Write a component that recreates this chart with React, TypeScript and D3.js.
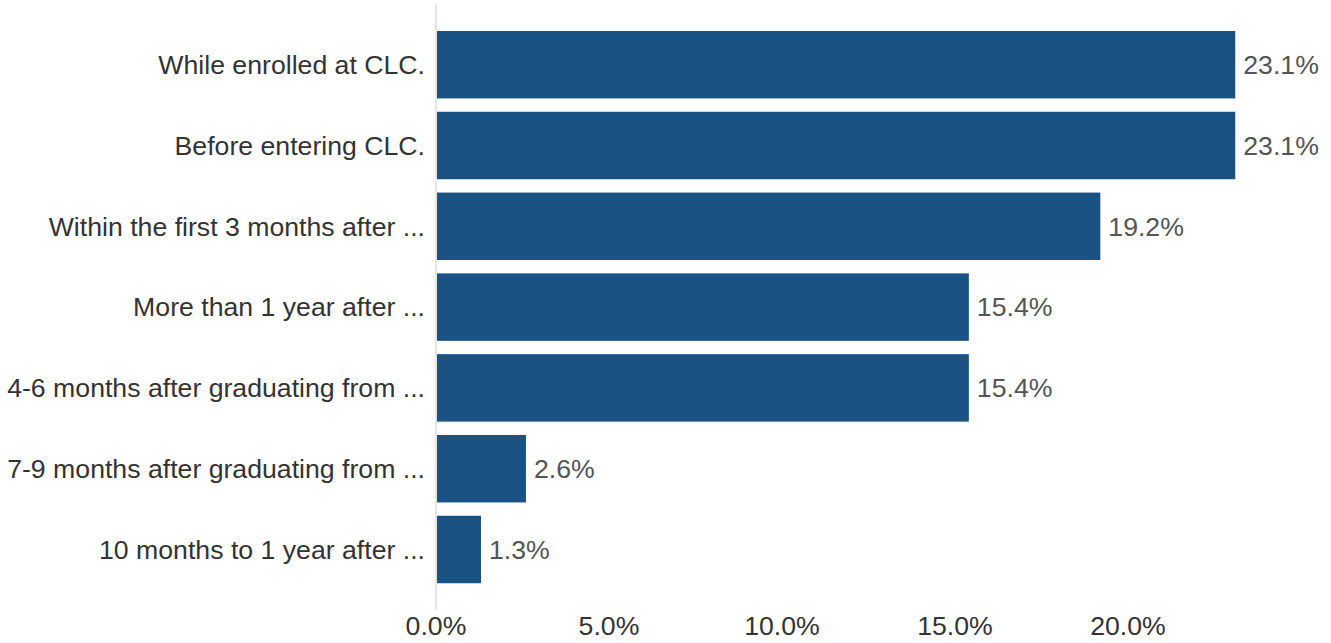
import React from "react";
import * as d3 from "d3";

const categories = [
  "While enrolled at CLC.",
  "Before entering CLC.",
  "Within the first 3 months after ...",
  "More than 1 year after ...",
  "4-6 months after graduating from ...",
  "7-9 months after graduating from ...",
  "10 months to 1 year after ...",
];
const values = [23.1, 23.1, 19.2, 15.4, 15.4, 2.6, 1.3];
const ticks = [0, 5, 10, 15, 20];

const W = 1331;
const H = 643;
const FONT = "'Liberation Sans', Arial, sans-serif";

export default function App() {
  const x = d3.scaleLinear().domain([0, 25]).range([436, 436 + 25 * 34.6]);
  const y = d3
    .scaleBand<string>()
    .domain(categories)
    .range([24.3, 589.9])
    .paddingInner(0.165)
    .paddingOuter(0.0825);
  const fmt = (v: number) => v.toFixed(1) + "%";
  return (
    <svg
      width={W}
      height={H}
      style={{ position: "absolute", left: 0, top: 0, background: "#fff" }}
      fontFamily={FONT}
    >
      <line x1={x(0)} x2={x(0)} y1={4} y2={610} stroke="#e6e6e6" strokeWidth={2} />
      {categories.map((c, i) => (
        <g key={c}>
          <rect
            x={x(0) + 1}
            y={y(c)}
            width={x(values[i]) - x(0) - 1}
            height={y.bandwidth()}
            fill="#1a5284"
          />
          <text
            x={x(0) - 11}
            y={(y(c) as number) + y.bandwidth() / 2}
            dy="0.35em"
            textAnchor="end"
            fontSize={26.67}
            fill="#333"
          >
            {c}
          </text>
          <text
            x={x(values[i]) + 8}
            y={(y(c) as number) + y.bandwidth() / 2}
            dy="0.35em"
            fontSize={26.67}
            fill="#555"
          >
            {fmt(values[i])}
          </text>
        </g>
      ))}
      {ticks.map((t) => (
        <text key={t} x={x(t)} y={635} textAnchor="middle" fontSize={26.67} fill="#333">
          {fmt(t)}
        </text>
      ))}
    </svg>
  );
}
